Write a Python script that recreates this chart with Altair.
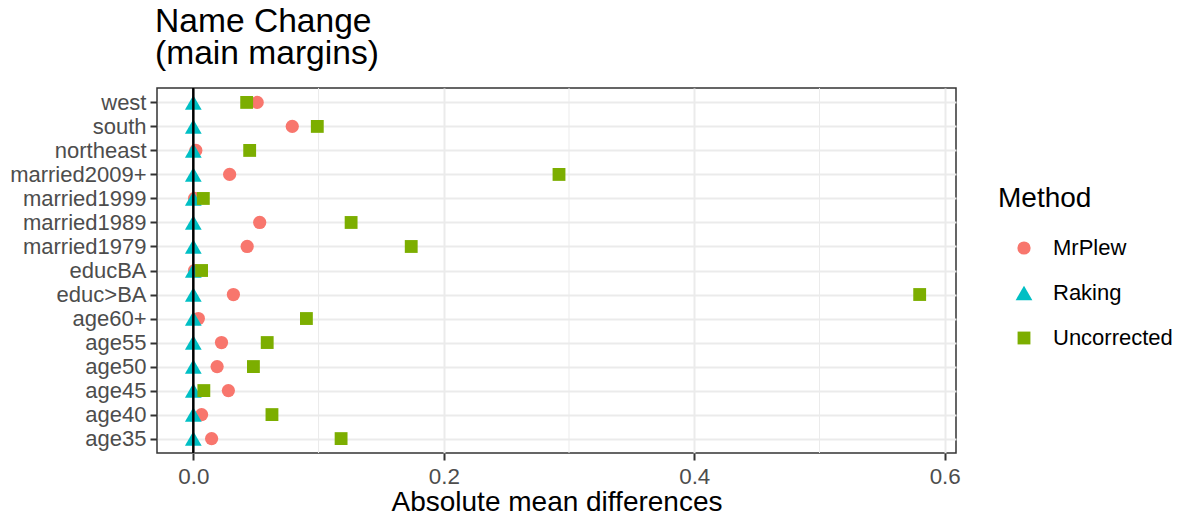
import altair as alt
import pandas as pd

categories = ["west", "south", "northeast", "married2009+", "married1999",
              "married1989", "married1979", "educBA", "educ>BA", "age60+",
              "age55", "age50", "age45", "age40", "age35"]
mrplew = [0.051, 0.079, 0.002, 0.029, 0.001, 0.053, 0.043, 0.001, 0.032,
          0.004, 0.0225, 0.019, 0.028, 0.0066, 0.0146]
raking = [0.0, 0.0, 0.0, 0.0, 0.0, 0.0, 0.0, 0.0, 0.0, 0.0, 0.0, 0.0, 0.0, 0.0, 0.0]
uncorrected = [0.0426, 0.099, 0.045, 0.292, 0.008, 0.126, 0.174, 0.0066, 0.580,
               0.0903, 0.059, 0.048, 0.0084, 0.0628, 0.118]
methods = ["MrPlew", "Raking", "Uncorrected"]
colors = ["#F8766D", "#00BFC4", "#7CAE00"]
shapes = ["circle", "triangle-up", "square"]
sizes = [175, 280, 165]
major_ticks = [0.0, 0.2, 0.4, 0.6]
minor_ticks = [0.1, 0.3, 0.5]
zero_line = [0.0]

rows = []
for m, vals in zip(methods, [mrplew, raking, uncorrected]):
    for c, v in zip(categories, vals):
        rows.append({"cat": c, "value": v, "Method": m})
df = pd.DataFrame(rows)

FONT = "Liberation Sans"
xscale = alt.Scale(domain=[-0.029, 0.609], nice=False, zero=False)
xaxis = alt.Axis(values=major_ticks, format=".1f", grid=True, gridColor="#EBEBEB",
                 gridWidth=2, labelFontSize=22.4, labelColor="#4D4D4D",
                 tickColor="#333333", tickSize=7, tickWidth=2, domain=False,
                 labelPadding=5.5, title="Absolute mean differences",
                 titleFontSize=28, titleColor="black", titleFontWeight="normal",
                 titlePadding=0.5, labelFont=FONT, titleFont=FONT)

points = alt.Chart(df).mark_point(filled=True, opacity=1, strokeWidth=0).encode(
    x=alt.X("value:Q", scale=xscale, axis=xaxis),
    y=alt.Y("cat:N", sort=categories,
            scale=alt.Scale(type="point", padding=0.6),
            axis=alt.Axis(title=None, grid=True, gridColor="#EBEBEB", gridWidth=2,
                          labelFontSize=22, labelColor="#4D4D4D",
                          tickColor="#333333", tickSize=7, tickWidth=2,
                          domain=False, labelPadding=4, labelFont=FONT)),
    color=alt.Color("Method:N", scale=alt.Scale(domain=methods, range=colors),
                    legend=alt.Legend(title="Method")),
    shape=alt.Shape("Method:N", scale=alt.Scale(domain=methods, range=shapes),
                    legend=alt.Legend(title="Method")),
    size=alt.Size("Method:N", scale=alt.Scale(type="ordinal", domain=methods, range=sizes),
                  legend=alt.Legend(title="Method")),
)

minor = alt.Chart(pd.DataFrame({"value": minor_ticks})).mark_rule(
    color="#EBEBEB", strokeWidth=1).encode(
    x=alt.X("value:Q", scale=xscale, axis=xaxis))

vline = alt.Chart(pd.DataFrame({"value": zero_line})).mark_rule(
    color="black", strokeWidth=2.5).encode(
    x=alt.X("value:Q", scale=xscale, axis=xaxis))

chart = alt.layer(minor, points, vline).properties(
    width=799, height=365,
    title=alt.TitleParams(text=["Name Change", "(main margins)"], anchor="start",
                          frame="group", fontSize=33.6, font=FONT, color="black",
                          fontWeight="normal", lineHeight=32, baseline="bottom",
                          offset=19, dx=-2, dy=36.5),
    autosize=alt.AutoSizeParams(type="none"),
    padding={"left": 149, "top": 80, "right": 220, "bottom": 62},
).configure_view(stroke="#333333", strokeWidth=1.5).configure_legend(
    orient="none", legendX=841, legendY=97, padding=0,
    titleFontSize=28, titleFont=FONT, titleColor="black", titleFontWeight="normal",
    titlePadding=24, labelFontSize=22, labelFont=FONT, labelColor="black",
    rowPadding=23, symbolOffset=15, labelOffset=18, labelLimit=300,
    symbolStrokeWidth=0, symbolOpacity=1,
)

chart.save("out.html", embed_options={"renderer": "svg", "actions": False})
